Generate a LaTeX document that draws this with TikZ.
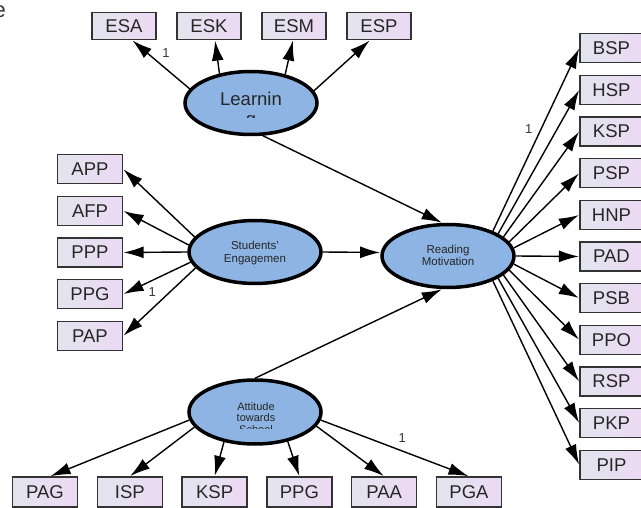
\documentclass[tikz,border=0pt]{standalone}
\usepackage{fontspec}
\setmainfont{Liberation Sans}
\usetikzlibrary{shapes.geometric}
\usetikzlibrary{arrows.meta}
\definecolor{boxleft}{RGB}{226,229,238}
\definecolor{boxright}{RGB}{236,217,243}
\definecolor{latentblue}{RGB}{141,180,226}

\begin{document}
\begin{tikzpicture}[x=1pt,y=-1pt,
  obs node/.style={rectangle, draw=black!80, line width=1.3pt, left color=boxleft, right color=boxright, minimum width=64pt, minimum height=28pt, inner sep=0pt, font=\fontsize{18.5}{18.5}\selectfont, text=black!85},
  lat node/.style={ellipse, draw, line width=3.5pt, fill=latentblue, minimum width=132pt, minimum height=63pt, inner sep=0pt},
  lat text/.style={align=center, anchor=north, inner sep=0pt, text=black!85},
  loading/.style={-{Latex[length=20pt,width=12pt]}, line width=1.4pt, shorten >=0.5pt},
  one/.style={font=\fontsize{13}{13}\selectfont, text=black!80, inner sep=0pt}]
  \useasboundingbox (0,0) rectangle (641,508);

  % cut-off text in the corner
  \node[font=\fontsize{22}{22}\selectfont, text=black!80, anchor=base east, inner sep=0pt] (cut) at (6,18) {e};

  % Latent variables
  \node[lat node] (lrn) at (251,103) {};
  \node[lat node] (sen) at (255,252) {};
  \node[lat node] (rm) at (448,256) {};
  \node[lat node, minimum height=64pt] (att) at (255,412) {};

  \begin{scope}
    \clip (180,80) rectangle (325,118);
    \node[lat text, font=\fontsize{18.5}{20}\selectfont] (lrn text) at (251,92) {Learnin\\g};
  \end{scope}
  \begin{scope}
    \clip (185,230) rectangle (325,268);
    \node[lat text, font=\fontsize{11.5}{13}\selectfont] (sen text) at (255,240.5) {Students'\\Engagemen\\t};
  \end{scope}
  \node[lat text, font=\fontsize{11.5}{12}\selectfont] (rm text) at (448,244.5) {Reading\\Motivation};
  \begin{scope}
    \clip (185,395) rectangle (325,428);
    \node[lat text, font=\fontsize{11}{11.5}\selectfont] (att text) at (256,402) {Attitude\\towards\\School};
  \end{scope}

  % Observed variables: top
  \node[obs node, minimum height=27pt] (esa) at (124,26) {ESA};
  \node[obs node, minimum height=27pt, node distance=85pt, right of=esa] (esk) {ESK};
  \node[obs node, minimum height=27pt, node distance=85pt, right of=esk] (esm) {ESM};
  \node[obs node, minimum height=27pt, node distance=85pt, right of=esm] (esp) {ESP};

  % left
  \node[obs node, minimum width=65pt, minimum height=29pt] (app) at (90,169) {APP};
  \node[obs node, minimum width=65pt, minimum height=29pt, node distance=41.75pt, below of=app] (afp) {AFP};
  \node[obs node, minimum width=65pt, minimum height=29pt, node distance=41.75pt, below of=afp] (ppp) {PPP};
  \node[obs node, minimum width=65pt, minimum height=29pt, node distance=41.75pt, below of=ppp] (ppg) {PPG};
  \node[obs node, minimum width=65pt, minimum height=29pt, node distance=41.75pt, below of=ppg] (pap) {PAP};

  % right
  \node[obs node, minimum width=63pt, minimum height=29pt] (bsp) at (611.5,48) {BSP};
  \node[obs node, minimum width=63pt, minimum height=29pt, node distance=41.7pt, below of=bsp] (hsp) {HSP};
  \node[obs node, minimum width=63pt, minimum height=29pt, node distance=41.7pt, below of=hsp] (ksp) {KSP};
  \node[obs node, minimum width=63pt, minimum height=29pt, node distance=41.7pt, below of=ksp] (psp) {PSP};
  \node[obs node, minimum width=63pt, minimum height=29pt, node distance=41.7pt, below of=psp] (hnp) {HNP};
  \node[obs node, minimum width=63pt, minimum height=29pt, node distance=41.7pt, below of=hnp] (pad) {PAD};
  \node[obs node, minimum width=63pt, minimum height=29pt, node distance=41.7pt, below of=pad] (psb) {PSB};
  \node[obs node, minimum width=63pt, minimum height=29pt, node distance=41.7pt, below of=psb] (ppo) {PPO};
  \node[obs node, minimum width=63pt, minimum height=29pt, node distance=41.7pt, below of=ppo] (rsp) {RSP};
  \node[obs node, minimum width=63pt, minimum height=29pt, node distance=41.7pt, below of=rsp] (pkp) {PKP};
  \node[obs node, minimum width=63pt, minimum height=29pt, node distance=41.7pt, below of=pkp] (pip) {PIP};

  % bottom
  \node[obs node, minimum width=65pt, minimum height=30pt] (pag) at (45,492) {PAG};
  \node[obs node, minimum width=65pt, minimum height=30pt, node distance=84.8pt, right of=pag] (isp) {ISP};
  \node[obs node, minimum width=65pt, minimum height=30pt, node distance=84.8pt, right of=isp] (ksp2) {KSP};
  \node[obs node, minimum width=65pt, minimum height=30pt, node distance=84.8pt, right of=ksp2] (ppg2) {PPG};
  \node[obs node, minimum width=65pt, minimum height=30pt, node distance=84.8pt, right of=ppg2] (paa) {PAA};
  \node[obs node, minimum width=65pt, minimum height=30pt, node distance=84.8pt, right of=paa] (pga) {PGA};

  % Paths
  \path[loading]
  (lrn.167) edge node[one, pos=0.73, right, xshift=14pt] {1} ([xshift=8pt]esa.south)
  (lrn.137) edge ([xshift=6pt]esk.south)
  (lrn.40) edge ([xshift=-1pt]esm.south)
  (lrn.11) edge ([xshift=-9pt]esp.south)
  (lrn.290) edge (rm.100)

  (sen.166) edge (app.east)
  (sen.174) edge (afp.east)
  (sen.west) edge (ppp.east)
  (sen.189) edge node[one, pos=0.57, below, yshift=-6pt] {1} (ppg.east)
  (sen.195) edge (pap.east)
  (sen.east) edge (rm.177)

  (rm.29) edge node[one, pos=0.556, left, xshift=-8pt] {1} (bsp.west)
  (rm.24) edge (hsp.west)
  (rm.19) edge (ksp.west)
  (rm.13) edge (psp.west)
  (rm.7) edge (hnp.west)
  (rm.east) edge (pad.west)
  (rm.353) edge (psb.west)
  (rm.347) edge (ppo.west)
  (rm.341) edge (rsp.west)
  (rm.336) edge (pkp.west)
  (rm.331) edge (pip.west)

  (att.187) edge ([xshift=5pt]pag.north)
  (att.194) edge (isp.north)
  (att.224) edge (ksp2.north)
  (att.318) edge (ppg2.north)
  (att.347) edge (paa.north)
  (att.353) edge node[one, pos=0.55, above, yshift=8pt] {1} (pga.north)
  (att.north) edge (rm.260);
\end{tikzpicture}
\end{document}
